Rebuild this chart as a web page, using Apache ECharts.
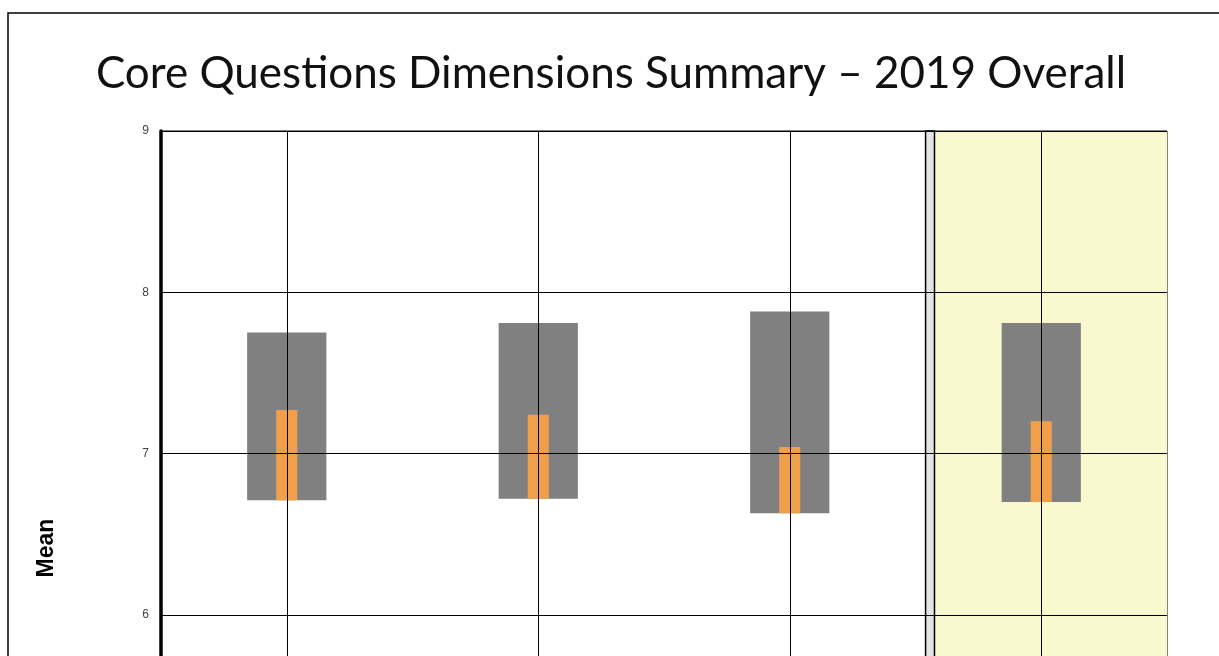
<!DOCTYPE html>
<html>
<head>
<meta charset="utf-8">
<title>Core Questions Dimensions Summary – 2019 Overall</title>
<script src="https://cdn.jsdelivr.net/npm/echarts@6/dist/echarts.min.js"></script>
<style>
  html, body { margin: 0; padding: 0; background: #fff; }
  #chart { width: 1219px; height: 656px; }
</style>
</head>
<body>
<div id="chart"></div>
<script>
// category names are below the visible area, so these are placeholders
const categories = ["Dimension 1", "Dimension 2", "Dimension 3", "Overall"];
const lowValues = [6.71, 6.72, 6.63, 6.70];
const highValues = [7.75, 7.81, 7.88, 7.81];
const meanValues = [7.27, 7.24, 7.04, 7.20];
const yTicks = [5, 6, 7, 8, 9];

const chart = echarts.init(document.getElementById("chart"));

function rectItem(widthRatio, color) {
  return function (params, api) {
    const i = api.value(0);
    const lo = api.coord([i, api.value(1)]);
    const hi = api.coord([i, api.value(2)]);
    const w = api.size([1, 0])[0] * widthRatio;
    return {
      type: "rect",
      shape: { x: lo[0] - w / 2, y: hi[1], width: w, height: lo[1] - hi[1] },
      style: { fill: color },
    };
  };
}

const option = {
  animation: false,
  title: {
    text: "Core Questions Dimensions Summary – 2019 Overall",
    left: 606,
    top: 47,
    textAlign: "center",
    textStyle: {
      fontFamily: "Lato",
      fontSize: 44,
      fontWeight: "normal",
      color: "#111",
    },
  },
  graphic: [
    {
      type: "rect",
      shape: { x: 8, y: 13, width: 1400, height: 900 },
      style: { fill: "none", stroke: "#000", lineWidth: 1.5 },
    },
    {
      type: "text",
      x: 47,
      y: 548,
      rotation: Math.PI / 2,
      style: {
        text: "Mean",
        font: "bold 23px 'Liberation Sans'",
        fill: "#000",
        textAlign: "center",
        textVerticalAlign: "middle",
      },
    },
  ],
  grid: {
    left: 161,
    top: 131,
    width: 1006,
    height: 645,
    outerBoundsMode: "none",
    containLabel: false,
    show: true,
    borderColor: "#000",
    borderWidth: 1,
    backgroundColor: "transparent",
  },
  xAxis: [
    {
      type: "category",
      data: categories,
      axisLine: { show: false },
      axisTick: { show: false },
      splitLine: { show: false },
    },
    {
      type: "value",
      min: 0,
      max: 4,
      show: false,
    },
  ],
  yAxis: {
    type: "value",
    min: yTicks[0],
    max: yTicks[yTicks.length - 1],
    interval: 1,
    axisLine: { show: true, lineStyle: { color: "#000", width: 3.5 } },
    axisTick: { show: false },
    axisLabel: {
      fontFamily: "Liberation Sans",
      fontSize: 12,
      color: "#444",
      margin: 12,
    },
    splitLine: { show: true, lineStyle: { color: "#000", width: 1 } },
  },
  series: [
    {
      // yellow highlight and the double divider
      type: "line",
      xAxisIndex: 1,
      data: [],
      z: -1,
      markArea: {
        silent: true,
        data: [
          [
            { xAxis: 3.0755, itemStyle: { color: "#faf8cf" } },
            { xAxis: 4 },
          ],
          [
            {
              xAxis: 3.04,
              itemStyle: { color: "#e4e4e4", borderColor: "#000", borderWidth: 1.5 },
            },
            { xAxis: 3.0755 },
          ],
        ],
      },
    },
    {
      // grid lines drawn over the highlight
      type: "line",
      data: [],
      z: 1,
      markLine: {
        silent: true,
        symbol: "none",
        label: { show: false },
        lineStyle: { color: "#000", width: 1, type: "solid" },
        data: categories
          .map((c) => ({ xAxis: c }))
          .concat(yTicks.map((v) => ({ yAxis: v }))),
      },
    },
    {
      name: "Range",
      type: "custom",
      z: 2,
      renderItem: rectItem(0.315, "#808080"),
      data: categories.map((c, i) => [i, lowValues[i], highValues[i]]),
    },
    {
      name: "Mean",
      type: "custom",
      z: 3,
      renderItem: rectItem(0.084, "#f0a04b"),
      data: categories.map((c, i) => [i, lowValues[i], meanValues[i]]),
    },
  ],
};

chart.setOption(option);
</script>
</body>
</html>
